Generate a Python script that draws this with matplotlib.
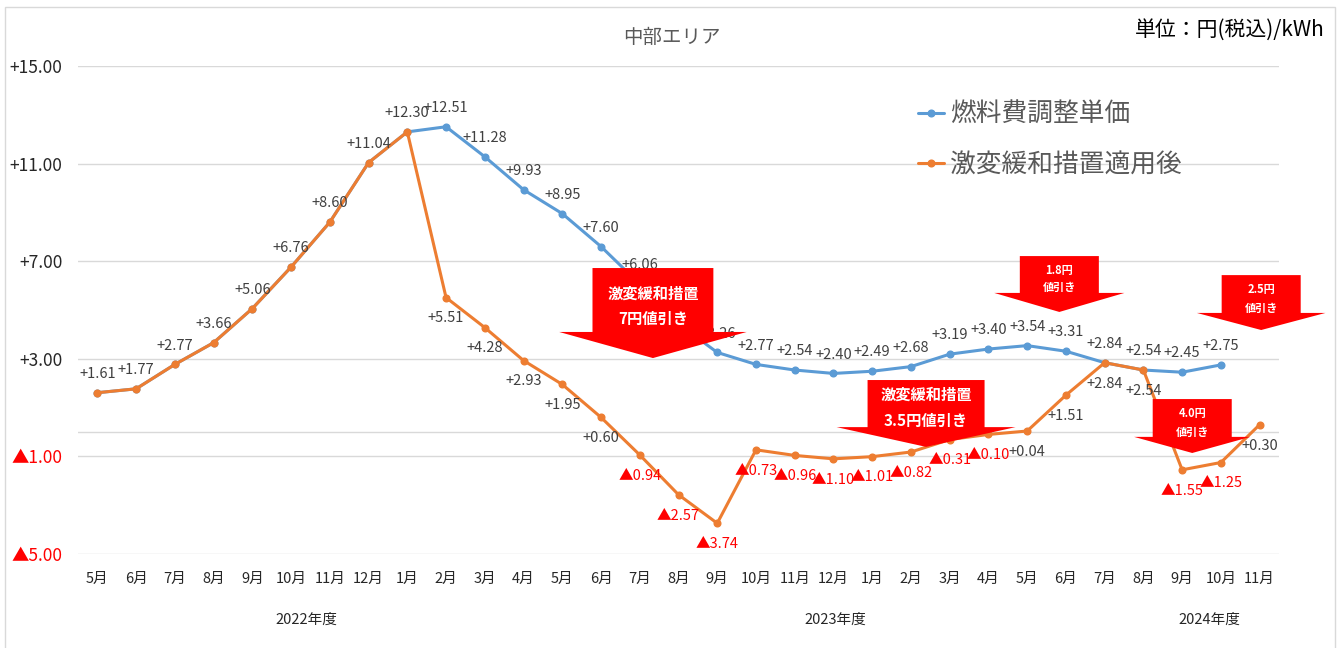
import matplotlib
matplotlib.use('Agg')
import matplotlib.pyplot as plt
import matplotlib.transforms as mtransforms
from matplotlib.patches import Polygon, Rectangle

plt.rcParams['font.family'] = ['Noto Sans CJK JP', 'DejaVu Sans']

# ---------------- data ----------------
months = ['5月', '6月', '7月', '8月', '9月', '10月', '11月', '12月',
          '1月', '2月', '3月', '4月', '5月', '6月', '7月', '8月', '9月', '10月', '11月', '12月',
          '1月', '2月', '3月', '4月', '5月', '6月', '7月', '8月', '9月', '10月', '11月']
year_labels = ['2022年度', '2023年度', '2024年度']
year_label_x = [5.39, 19.04, 28.71]

fuel_adj = [1.61, 1.77, 2.77, 3.66, 5.06, 6.76, 8.60, 11.04,
            12.30, 12.51, 11.28, 9.93, 8.95, 7.60, 6.06, 4.43, 3.26, 2.77, 2.54, 2.40,
            2.49, 2.68, 3.19, 3.40, 3.54, 3.31, 2.84, 2.54, 2.45, 2.75]
after_relief = [1.61, 1.77, 2.77, 3.66, 5.06, 6.76, 8.60, 11.04,
                12.30, 5.51, 4.28, 2.93, 1.95, 0.60, -0.94, -2.57, -3.74, -0.73, -0.96, -1.10,
                -1.01, -0.82, -0.31, -0.10, 0.04, 1.51, 2.84, 2.54, -1.55, -1.25, 0.30]
series_names = ['燃料費調整単価', '激変緩和措置適用後']
yticks = [-5, -1, 3, 7, 11, 15]
hidden_fuel_labels = [15]  # label hidden behind the 7円 arrow in the original

# annotation arrows: (center x, top, base, tip, shaft half-width, head half-width, lines, line y, fontsize)
arrows = [
    (14.34, 6.72, 4.10, 3.03, 1.56, 2.42, ['激変緩和措置', '7円値引き'], [5.66, 4.63], 11),
    (21.39, 2.13, 0.20, -0.61, 1.51, 2.31, ['激変緩和措置', '3.5円値引き'], [1.52, 0.45], 11),
    (24.83, 7.21, 5.70, 4.92, 1.02, 1.68, ['1.8円', '値引き'], [6.60, 5.94], 8),
    (28.26, 1.35, -0.20, -0.86, 1.02, 1.50, ['4.0円', '値引き'], [0.74, 0.00], 8),
    (30.04, 6.43, 4.88, 4.18, 1.02, 1.66, ['2.5円', '値引き'], [5.82, 5.08], 8),
]

BLUE = '#5B9BD5'
ORANGE = '#ED7D31'
GRID = '#D9D9D9'
LABEL_GRAY = '#404040'
RED = '#FF0000'

W, H = 1343, 648
fig = plt.figure(figsize=(W / 100, H / 100), dpi=100)
ax = fig.add_axes([78 / W, 1 - 554 / H, 1201 / W, 488 / H])

x_all = list(range(len(months)))
x_fuel = x_all[:len(fuel_adj)]

ax.plot(x_fuel, fuel_adj, color=BLUE, lw=2.2, marker='o', ms=4.8, zorder=3,
        label=series_names[0], solid_capstyle='round')
ax.plot(x_all, after_relief, color=ORANGE, lw=2.2, marker='o', ms=4.8, zorder=4,
        label=series_names[1], solid_capstyle='round')


def fmt(v):
    return ('+%.2f' % v) if v >= 0 else ('▲%.2f' % abs(v))


# data labels
for xi, v in zip(x_fuel, fuel_adj):
    if xi in hidden_fuel_labels:
        continue
    ax.annotate(fmt(v), (xi, v), xytext=(0, 13.5), textcoords='offset points',
                ha='center', va='center', fontsize=10.5,
                color=LABEL_GRAY if v >= 0 else RED, zorder=5)
for xi, v in zip(x_all[9:], after_relief[9:]):
    ax.annotate(fmt(v), (xi, v), xytext=(0, -15), textcoords='offset points',
                ha='center', va='center', fontsize=10.5,
                color=LABEL_GRAY if v >= 0 else RED, zorder=5)

# arrows
for cx, top, base, tip, shw, hhw, lines, ly, fs in arrows:
    pts = [(cx - shw, top), (cx + shw, top), (cx + shw, base), (cx + hhw, base),
           (cx, tip), (cx - hhw, base), (cx - shw, base)]
    ax.add_patch(Polygon(pts, closed=True, facecolor=RED, edgecolor='none',
                         zorder=6, clip_on=False))
    for t, yy in zip(lines, ly):
        ax.text(cx, yy, t, ha='center', va='center', color='white',
                fontsize=fs, fontweight='bold', zorder=7, clip_on=False)

# axes styling
ax.set_xlim(-0.5, len(months) - 0.5)
ax.set_ylim(-5, 15)
ax.set_yticks(yticks)
ax.set_yticklabels([fmt(v) for v in yticks], fontsize=12.5)
for lab, v in zip(ax.get_yticklabels(), yticks):
    lab.set_color('#262626' if v >= 0 else RED)
ax.set_xticks(x_all)
ax.set_xticklabels(months, fontsize=10.5, color='#262626')
ax.tick_params(axis='x', length=0, pad=13)
ax.tick_params(axis='y', length=0, pad=11)
ax.grid(axis='y', color=GRID, lw=1)
ax.axhline(0, color=GRID, lw=1, zorder=1)
ax.set_axisbelow(True)
for s in ax.spines.values():
    s.set_visible(False)

trans = mtransforms.blended_transform_factory(ax.transData, ax.transAxes)
for t, xx in zip(year_labels, year_label_x):
    ax.text(xx, -0.135, t, transform=trans, ha='center', va='center',
            fontsize=10.5, color='#262626')

# legend
leg = ax.legend(loc='upper left', bbox_to_anchor=(918 / W, 1 - 102 / H),
                bbox_transform=fig.transFigure, frameon=False, fontsize=18.5,
                handlelength=1.0, handletextpad=0.25, labelspacing=0.95,
                borderpad=0, borderaxespad=0)
for t in leg.get_texts():
    t.set_color('#595959')

# titles
fig.text(672 / W, 1 - 37 / H, '中部エリア', ha='center', va='center',
         fontsize=14, color='#595959')
fig.text(1230 / W, 1 - 30 / H, '単位：円(税込)/kWh', ha='center', va='center',
         fontsize=15, color='#000000')

# outer border
fig.patches.append(Rectangle((5 / W, -0.01), 1330 / W, 1 - 7 / H + 0.01,
                             transform=fig.transFigure, fill=False,
                             edgecolor=GRID, lw=1))

fig.savefig('out.png', dpi=100)
